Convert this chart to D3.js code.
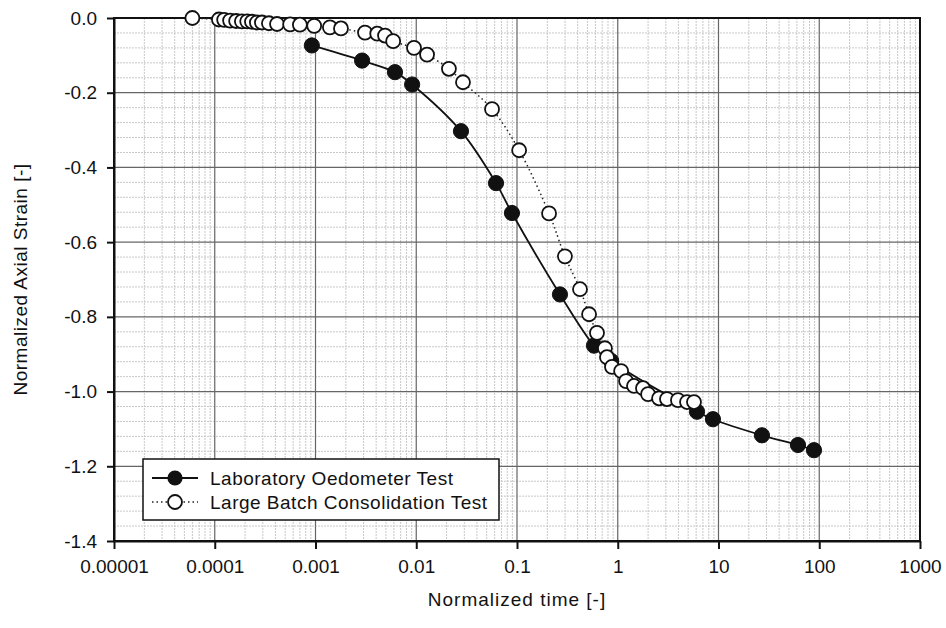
<!DOCTYPE html>
<html>
<head>
<meta charset="utf-8">
<script src="https://cdn.jsdelivr.net/npm/d3@7"></script>
<style>
body { margin: 0; background: #fff; }
text { font-family: "Liberation Sans", Arial, sans-serif; fill: #111; }
</style>
</head>
<body>
<div id="chart"></div>
<script>
// Данные: Laboratory Oedometer Test (чёрные точки)
const labTime = [0.00092, 0.0029, 0.00615, 0.0091, 0.0278, 0.0619, 0.0891, 0.267, 0.581, 0.86, 6.12, 8.81, 27.0, 61.5, 88.7]
const labStrain = [-0.0735, -0.114, -0.145, -0.178, -0.303, -0.442, -0.522, -0.740, -0.877, -0.918, -1.054, -1.074, -1.117, -1.143, -1.157]

// Данные: Large Batch Consolidation Test (белые точки)
const batchTime = [0.00006, 0.00011, 0.000124, 0.000142, 0.000163, 0.000186, 0.00021, 0.000234, 0.000262, 0.000294,
    0.000345, 0.000415, 0.00056, 0.0007, 0.00097, 0.00139, 0.00179, 0.0031, 0.0041, 0.0049,
    0.0059, 0.0095, 0.0128, 0.0211, 0.0291, 0.0565, 0.105, 0.208, 0.299, 0.422,
    0.519, 0.622, 0.746, 0.782, 0.877, 1.08, 1.21, 1.45, 1.78, 2.0,
    2.57, 3.08, 3.96, 4.87, 5.71]
const batchStrain = [0, -0.004, -0.005, -0.007, -0.008, -0.009, -0.009, -0.010, -0.012, -0.012,
    -0.014, -0.016, -0.017, -0.018, -0.021, -0.025, -0.028, -0.039, -0.042, -0.047,
    -0.062, -0.080, -0.098, -0.136, -0.172, -0.244, -0.354, -0.523, -0.638, -0.726,
    -0.793, -0.843, -0.884, -0.908, -0.934, -0.945, -0.972, -0.985, -0.991, -1.007,
    -1.018, -1.020, -1.023, -1.028, -1.028]

// Подписи осей
const xTicks = [0.00001, 0.0001, 0.001, 0.01, 0.1, 1, 10, 100, 1000]
const xTickLabels = ['0.00001', '0.0001', '0.001', '0.01', '0.1', '1', '10', '100', '1000']
const yTicks = [0, -0.2, -0.4, -0.6, -0.8, -1.0, -1.2, -1.4]
const yTickLabels = ['0.0', '-0.2', '-0.4', '-0.6', '-0.8', '-1.0', '-1.2', '-1.4']
const seriesNames = ['Laboratory Oedometer Test', 'Large Batch Consolidation Test']

const width = 946
const height = 628
const margin = {left: 114, right: 26, top: 18, bottom: 87}
const fontSize = '19px'

let svg = d3.select('#chart')
    .append('svg')
    .attr('width', width)
    .attr('height', height)

let x = d3.scaleLog()
    .domain([0.00001, 1000])
    .range([margin.left, width - margin.right])

let y = d3.scaleLinear()
    .domain([-1.4, 0])
    .range([height - margin.bottom, margin.top])

// сетка - мелкие линии
let minorX = []
for (let d = -5; d < 3; d++) {
    for (let k = 2; k <= 9; k++) minorX.push(k * Math.pow(10, d))
}
let minorY = d3.range(1, 35).map(i => -i * 0.04).filter(v => Math.abs(v / 0.2 - Math.round(v / 0.2)) > 0.01)

let grid = svg.append('g')
grid.selectAll('.mx')
    .data(minorX)
    .join('line')
    .attr('x1', d => x(d)).attr('x2', d => x(d))
    .attr('y1', y(0)).attr('y2', y(-1.4))
    .style('stroke', '#c8c8c8')
    .style('stroke-dasharray', '2,1')
grid.selectAll('.my')
    .data(minorY)
    .join('line')
    .attr('x1', x(0.00001)).attr('x2', x(1000))
    .attr('y1', d => y(d)).attr('y2', d => y(d))
    .style('stroke', '#c8c8c8')
    .style('stroke-dasharray', '2,1')

// сетка - крупные линии
grid.selectAll('.Mx')
    .data(xTicks.slice(1, -1))
    .join('line')
    .attr('x1', d => x(d)).attr('x2', d => x(d))
    .attr('y1', y(0)).attr('y2', y(-1.4))
    .style('stroke', '#666')
    .style('stroke-width', 1.2)
grid.selectAll('.My')
    .data(yTicks.slice(1, -1))
    .join('line')
    .attr('x1', x(0.00001)).attr('x2', x(1000))
    .attr('y1', d => y(d)).attr('y2', d => y(d))
    .style('stroke', '#666')
    .style('stroke-width', 1.2)

// рамка
svg.append('rect')
    .attr('x', x(0.00001))
    .attr('y', y(0))
    .attr('width', x(1000) - x(0.00001))
    .attr('height', y(-1.4) - y(0))
    .style('fill', 'none')
    .style('stroke', '#111')
    .style('stroke-width', 2)

// оси
let xAxis = svg.append('g')
    .attr('transform', `translate(0,${y(-1.4)})`)
    .call(d3.axisBottom(x).tickValues(xTicks).tickFormat((d, i) => xTickLabels[i]).tickSize(8).tickSizeOuter(0).tickPadding(11))
let yAxis = svg.append('g')
    .attr('transform', `translate(${x(0.00001)},0)`)
    .call(d3.axisLeft(y).tickValues(yTicks).tickFormat((d, i) => yTickLabels[i]).tickSize(7).tickSizeOuter(0).tickPadding(10))

for (let a of [xAxis, yAxis]) {
    a.select('.domain').style('stroke', '#111').style('stroke-width', 2)
    a.selectAll('.tick line').style('stroke', '#111').style('stroke-width', 2)
    a.selectAll('.tick text').style('font-size', fontSize).style('font-family', '"Liberation Sans", Arial, sans-serif').style('fill', '#111')
}

// линии серий
let line = d3.line()
    .x(d => x(d[0]))
    .y(d => y(d[1]))
    .curve(d3.curveCatmullRom)

let labData = labTime.map((t, i) => [t, labStrain[i]])
let batchData = batchTime.map((t, i) => [t, batchStrain[i]])

svg.append('path')
    .datum(batchData)
    .attr('d', line)
    .style('fill', 'none')
    .style('stroke', '#222')
    .style('stroke-width', 1.5)
    .style('stroke-dasharray', '1.5,3')

svg.append('path')
    .datum(labData)
    .attr('d', line)
    .style('fill', 'none')
    .style('stroke', '#111')
    .style('stroke-width', 1.8)

svg.append('g').selectAll('circle')
    .data(labData)
    .join('circle')
    .attr('cx', d => x(d[0]))
    .attr('cy', d => y(d[1]))
    .attr('r', 7.6)
    .style('fill', '#111')
    .style('stroke', '#111')
    .style('stroke-width', 1)

svg.append('g').selectAll('circle')
    .data(batchData)
    .join('circle')
    .attr('cx', d => x(d[0]))
    .attr('cy', d => y(d[1]))
    .attr('r', 7)
    .style('fill', '#fff')
    .style('stroke', '#111')
    .style('stroke-width', 1.8)

// легенда
let legend = svg.append('g').attr('transform', 'translate(143,459)')
legend.append('rect')
    .attr('width', 356)
    .attr('height', 61)
    .style('fill', '#fff')
    .style('stroke', '#111')
    .style('stroke-width', 1.5)

legend.append('line')
    .attr('x1', 9).attr('x2', 55).attr('y1', 19).attr('y2', 19)
    .style('stroke', '#111').style('stroke-width', 1.8)
legend.append('circle')
    .attr('cx', 32).attr('cy', 19).attr('r', 7.6)
    .style('fill', '#111')
legend.append('line')
    .attr('x1', 9).attr('x2', 55).attr('y1', 43).attr('y2', 43)
    .style('stroke', '#222').style('stroke-width', 1.5).style('stroke-dasharray', '1.5,3')
legend.append('circle')
    .attr('cx', 32).attr('cy', 43).attr('r', 7)
    .style('fill', '#fff').style('stroke', '#111').style('stroke-width', 1.8)

legend.selectAll('text')
    .data(seriesNames)
    .join('text')
    .attr('x', 67)
    .attr('y', (d, i) => 26 + i * 24)
    .style('font-size', fontSize)
    .style('letter-spacing', '0.5px')
    .text(d => d)

// подписи осей
svg.append('text')
    .attr('x', (x(0.00001) + x(1000)) / 2)
    .attr('y', 606)
    .attr('text-anchor', 'middle')
    .style('font-size', fontSize)
    .style('letter-spacing', '1px')
    .text('Normalized time [-]')

svg.append('text')
    .attr('transform', `translate(27,${(y(0) + y(-1.4)) / 2}) rotate(-90)`)
    .attr('text-anchor', 'middle')
    .style('font-size', fontSize)
    .style('letter-spacing', '0.5px')
    .text('Normalized Axial Strain [-]')
</script>
</body>
</html>
